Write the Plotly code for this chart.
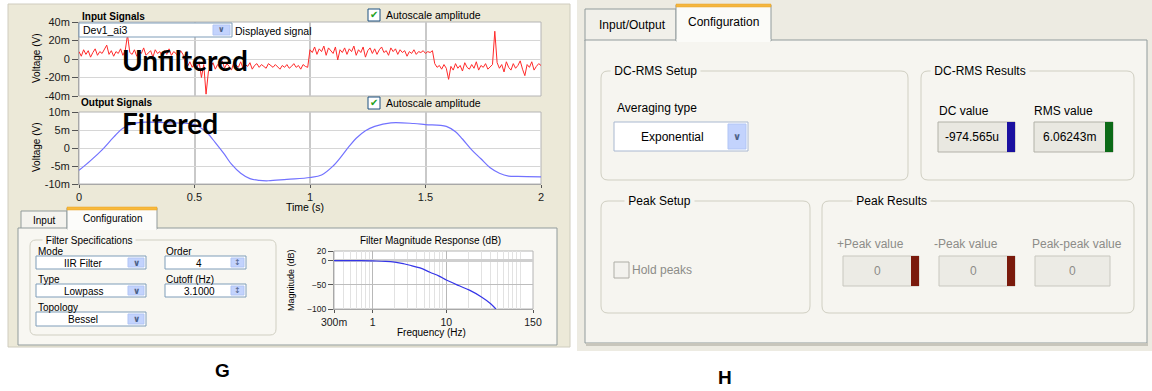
import math
import plotly.graph_objects as go

W, H = 1152, 391

# ---------------- data ----------------
# Input (unfiltered) signal, mV, sampled every 10 ms from 0 to 2 s
input_dt = 0.01
input_mv = [
    8, 3, 10, 5, 9, 2, 7, 11, 4, 8,
    6, 10, 15, 5, 9, 3, 8, 6, 11, 4,
    9, 26, 7, 5, 10, 3, 8, 6, 12, 4,
    7, 9, 2, 10, 6, 8, 3, 9, 5, 11,
    4, 8, 6, 2, 9, 5, -4, -8, -3, -9,
    -5, -10, -3, -20, -6, -38, -14, -9, -4, -11,
    -6, -9, -2, -10, -5, -8, -12, -4, -7, -9,
    -3, -10, -6, -8, -4, -11, -7, -5, -9, -6,
    -8, -10, -5, -7, -9, -6, -8, -11, -7, -9,
    -6, -10, -8, -5, -9, -7, -11, -6, -8, -9,
    10, 7, 13, 5, 11, 8, 14, 4, 12, 9,
    6, 13, -1, 10, 7, 12, 5, 11, 8, 14,
    4, 10, 7, 13, 2, 9, 12, 6, 11, 5,
    10, 13, 7, 9, 4, 12, 8, 11, 5, 10,
    7, 9, 3, 8, 6, 10, 5, 8, 7, 9,
    6, 8, 7, 9, -5, -9, -7, -11, -6, -10,
    -22, -8, -12, -5, -10, -7, -13, -4, -9, -11,
    -6, -10, -3, -12, -7, -9, -5, -11, -8, -6,
    30, -4, -10, -6, -14, -3, -9, -12, -5, -10,
    -7, -2, -11, -18, -6, -9, -3, -12, -8, -5,
    -7,
]

# Output (filtered) signal, mV
output_t = [0, 0.05, 0.1, 0.15, 0.19, 0.25, 0.3, 0.4, 0.5, 0.55, 0.59, 0.63, 0.66,
            0.7, 0.74, 0.78, 0.82, 0.9, 1.0, 1.05, 1.1, 1.13, 1.17, 1.2, 1.24, 1.28,
            1.35, 1.45, 1.5, 1.59, 1.63, 1.66, 1.7, 1.74, 1.78, 1.82, 1.86, 1.9, 2.0]
output_mv = [-6.2, -3.5, -0.5, 3, 5.5, 7, 7.2, 7, 6.5, 4.5, 1.5, -1.8, -4.5,
             -7, -8.5, -9, -9.1, -8.7, -8.2, -7.5, -5, -2.8, 0.5, 2.7, 4.8, 6,
             7, 6.8, 6.5, 6, 4.5, 2.5, -0.5, -3, -5.5, -7, -7.8, -7.9, -8]

# Filter magnitude response
freq_hz = [0.3, 0.7, 1, 1.5, 2, 2.6, 3.1, 4.4, 6, 8, 10, 15, 20.6, 30, 40, 47]
mag_db = [0, 0, -0.5, -1.3, -3, -6, -9, -15, -24, -32, -40, -52, -61, -75, -89, -100]

in_ticks = [0.04, 0.02, 0, -0.02, -0.04]
in_ticktext = ["40m", "20m", "0", "-20m", "-40m"]
out_ticks = [0.01, 0.005, 0, -0.005, -0.01]
out_ticktext = ["10m", "5m", "0", "-5m", "-10m"]
time_ticks = [0, 0.5, 1, 1.5, 2]
time_ticktext = ["0", "0.5", "1", "1.5", "2"]
freq_ticks = [0.3, 1, 10, 150]
freq_ticktext = ["300m", "1", "10", "150"]
freq_minor = [0.4, 0.5, 0.6, 0.7, 0.8, 0.9, 2, 3, 4, 5, 6, 7, 8, 9,
              20, 30, 40, 50, 60, 70, 80, 90, 100]
mag_ticks = [20, 0, -50, -100]

# ---------------- helpers ----------------
shapes = []
annotations = []

BEIGE = "#ECE9D8"
PANEL = "#F8F7F2"
XPBORDER = "#919B9C"
LEFT_FONT = "Liberation Sans"
RIGHT_FONT = "Liberation Sans"
RS = 12


def px(x):
    return x / W


def py(y):
    return 1 - y / H


def rect(x0, y0, x1, y1, fill=None, line=None, lw=1, layer="below"):
    shapes.append(dict(type="rect", xref="paper", yref="paper",
                       x0=px(x0), x1=px(x1), y0=py(y1), y1=py(y0),
                       fillcolor=fill or "rgba(0,0,0,0)",
                       line=dict(color=line or "rgba(0,0,0,0)", width=lw if line else 0),
                       layer=layer))


def rrect(x0, y0, x1, y1, r=5, line="#D0CFC2", fill=None, lw=1, layer="below"):
    l, rr, t, b = px(x0), px(x1), py(y0), py(y1)
    rx, ry = r / W, r / H
    path = (f"M {l+rx},{t} L {rr-rx},{t} Q {rr},{t} {rr},{t-ry} "
            f"L {rr},{b+ry} Q {rr},{b} {rr-rx},{b} L {l+rx},{b} "
            f"Q {l},{b} {l},{b+ry} L {l},{t-ry} Q {l},{t} {l+rx},{t} Z")
    shapes.append(dict(type="path", xref="paper", yref="paper", path=path,
                       fillcolor=fill or "rgba(0,0,0,0)",
                       line=dict(color=line, width=lw), layer=layer))


def text(x, y, s, size=10, color="#000000", anchor="left", family=LEFT_FONT,
         bg=None, angle=0):
    a = dict(xref="paper", yref="paper", x=px(x), y=py(y), text=s, showarrow=False,
             xanchor=anchor, yanchor="middle", textangle=angle,
             font=dict(size=size, color=color, family=family), borderpad=0)
    if bg:
        a["bgcolor"] = bg
    annotations.append(a)


def dropdown(x0, y0, x1, y1, label, bw=16, size=10, family=LEFT_FONT, layer="below",
             border="#7F9DB9", label_x=None):
    rect(x0, y0, x1, y1, fill="#FFFFFF", line=border, layer=layer)
    rect(x1 - bw - 2, y0 + 2, x1 - 2, y1 - 2, fill="#C3D3FD", line="#B1C5F5", layer=layer)
    text(x1 - 2 - bw / 2, (y0 + y1) / 2, "<b>∨</b>", size=min(size - 1, 10), color="#4D6185",
         anchor="center", family="DejaVu Sans")
    cx = label_x if label_x is not None else (x0 + x1 - bw) / 2
    text(cx, (y0 + y1) / 2 + 0.5, label, size=size, anchor="center", family=family)


def spinbox(x0, y0, x1, y1, label, bw=13):
    rect(x0, y0, x1, y1, fill="#FFFFFF", line="#7F9DB9")
    rect(x1 - bw - 2, y0 + 2, x1 - 2, y1 - 2, fill="#C3D3FD", line="#B1C5F5")
    text(x1 - 2 - bw / 2, (y0 + y1) / 2, "↕", size=8, color="#4D6185",
         anchor="center", family="DejaVu Sans")
    text((x0 + x1 - bw) / 2, (y0 + y1) / 2 + 0.5, label, size=10, anchor="center")


def checkbox(x0, y0, s, checked=True, border="#1C5180"):
    rect(x0, y0, x0 + s, y0 + s, fill="#FFFFFF" if checked else None, line=border)
    if checked:
        text(x0 + s / 2, y0 + s / 2, "✔", size=s - 2, color="#21A121", anchor="center",
             family="DejaVu Sans")


# ---------------- LEFT SCREENSHOT (G) ----------------
rect(8, 4, 570, 347, fill=BEIGE, line="#CFCCBE")
rect(79, 22, 541, 96, fill="#FFFFFF", line="#B4B4B4")
rect(79, 112, 541, 184, fill="#FFFFFF", line="#B4B4B4")

text(81, 16, "<b>Input Signals</b>", size=10)
checkbox(368, 9, 12)
text(385, 15, "Autoscale amplitude", size=10.5)
text(80, 103, "<b>Output Signals</b>", size=10)
checkbox(368, 97, 12)
text(385, 103, "Autoscale amplitude", size=10.5)

rect(79, 23, 232, 37, fill="#FFFFFF", line="#7F9DB9", layer="above")
rect(213, 25, 230, 35, fill="#C3D3FD", line="#B1C5F5", layer="above")
text(221.5, 30, "<b>∨</b>", size=8, color="#4D6185", anchor="center", family="DejaVu Sans")
text(82, 30.5, "Dev1_ai3", size=10.5)
text(234, 31, "Displayed signal", size=10.5)

text(36, 59, "Voltage (V)", size=10, angle=-90, anchor="center")
text(36, 148, "Voltage (V)", size=10, angle=-90, anchor="center")
text(305, 207, "Time (s)", size=10.5, anchor="center")

text(185, 60, "<b>Unfiltered</b>", size=28, family="Lato, Open Sans", anchor="center")
text(170, 123, "<b>Filtered</b>", size=28, family="Lato, Open Sans", anchor="center")

rect(21, 211, 67, 229, fill="#F4F3EE", line=XPBORDER)
rect(18, 228, 557, 345, fill=PANEL, line=XPBORDER)
rect(67, 208, 157, 229, fill="#FCFCFA", line=XPBORDER)
rect(67.5, 228, 156.5, 230, fill="#FCFCFA")
rect(67, 207, 157, 210, fill="#F8B93C", line="#E8A020", lw=0.5)
text(44, 220, "Input", size=10, anchor="center")
text(112, 218.5, "Configuration", size=10, anchor="center")

rrect(30, 240, 276, 335, r=6)
text(42, 240, " Filter Specifications ", size=10, bg=PANEL)
text(37, 251.5, "Mode", size=10)
dropdown(36, 256, 146, 269, "IIR Filter")
text(37, 279, "Type", size=10)
dropdown(36, 284, 146, 297, "Lowpass")
text(37, 307, "Topology", size=10)
dropdown(36, 312, 146, 326, "Bessel")
text(165, 251.5, "Order", size=10)
spinbox(165, 256, 246, 269, "4")
text(165, 279, "Cutoff (Hz)", size=10)
spinbox(165, 284, 246, 297, "3.1000")

rect(334, 251, 533, 309, fill="#FFFFFF", line="#B4B4B4")
text(430, 240, "Filter Magnitude Response (dB)", size=10, anchor="center")
text(291, 280, "Magnitude (dB)", size=9, angle=-90, anchor="center")
text(431, 332, "Frequency (Hz)", size=10, anchor="center")

text(222, 370, "<b>G</b>", size=19, family="Liberation Sans", anchor="center")

# ---------------- RIGHT SCREENSHOT (H) ----------------
rect(577, 0, 1152, 351, fill="#EDEBE2")
rect(585, 9, 676, 41, fill="#F1F0EA", line=XPBORDER)
rect(585, 40, 1147, 343, fill="#F6F5F0", line=XPBORDER)
rect(676, 5, 771, 41, fill="#FBFBF8", line=XPBORDER)
rect(676.5, 39, 770.5, 42, fill="#FBFBF8")
rect(676, 4, 771, 7, fill="#F5B63F", line="#E6A02A", lw=0.5)
rect(586, 343, 1148, 346, fill="#C8C6BC")
text(632, 25, "Input/Output", size=RS, anchor="center", family=RIGHT_FONT)
text(723, 22, "Configuration", size=RS, anchor="center", family=RIGHT_FONT)

RP = "#F6F5F0"
rrect(601, 71, 908, 180, r=7)
text(610, 71, " DC-RMS Setup ", size=RS, family=RIGHT_FONT, bg=RP)
rrect(921, 71, 1134, 180, r=7)
text(930, 71, " DC-RMS Results ", size=RS, family=RIGHT_FONT, bg=RP)
rrect(601, 201, 810, 313, r=7)
text(624, 201, " Peak Setup ", size=RS, family=RIGHT_FONT, bg=RP)
rrect(822, 201, 1134, 313, r=7)
text(852, 201, " Peak Results ", size=RS, family=RIGHT_FONT, bg=RP)

text(616, 108, "Averaging type", size=RS, family=RIGHT_FONT)
dropdown(614, 122, 748, 151, "Exponential", bw=18, size=RS, family=RIGHT_FONT,
         border="#A9B8D0", label_x=672)

text(938, 111, "DC value", size=RS, family=RIGHT_FONT)
rect(938, 122, 1015, 152, fill="#E9E8E1", line="#B2B1A8")
rect(1007, 122, 1015, 152, fill="#1A10A0")
text(972, 137, "-974.565u", size=RS, family=RIGHT_FONT, anchor="center")
text(1033, 111, "RMS value", size=RS, family=RIGHT_FONT)
rect(1034, 122, 1113, 152, fill="#E9E8E1", line="#B2B1A8")
rect(1105, 122, 1113, 152, fill="#0B6A16")
text(1069, 137, "6.06243m", size=RS, family=RIGHT_FONT, anchor="center")

rect(614, 262, 629, 278, fill="#F3F2EE", line="#AEADA6")
GRAY = "#8C8C88"
text(631, 270, "Hold peaks", size=RS, family=RIGHT_FONT, color=GRAY)
for cx, lbl, x0, x1, bar in [(870, "+Peak value", 843, 919, True),
                              (966, "-Peak value", 939, 1015, True),
                              (1077, "Peak-peak value", 1035, 1110, False)]:
    text(cx, 244, lbl, size=RS, family=RIGHT_FONT, color=GRAY, anchor="center")
    rect(x0, 256, x1, 286, fill="#ECEBE5", line="#C8C7BF")
    if bar:
        rect(x1 - 8, 256, x1, 286, fill="#7A1A0C")
        text((x0 + x1 - 8) / 2, 271, "0", size=RS, family=RIGHT_FONT, color=GRAY,
             anchor="center")
    else:
        text((x0 + x1) / 2, 271, "0", size=RS, family=RIGHT_FONT, color=GRAY,
             anchor="center")

text(725, 377, "<b>H</b>", size=19, family="Liberation Sans", anchor="center")

# ---------------- traces ----------------
fig = go.Figure()
fig.add_trace(go.Scatter(y=[v / 1000 for v in input_mv], x0=0, dx=input_dt, mode="lines",
                         line=dict(color="#FF2A2A", width=1), xaxis="x", yaxis="y",
                         hoverinfo="skip"))
fig.add_trace(go.Scatter(x=output_t, y=[v / 1000 for v in output_mv], mode="lines",
                         line=dict(color="#7272FF", width=1.2, shape="spline"),
                         xaxis="x2", yaxis="y2", hoverinfo="skip"))
fig.add_trace(go.Scatter(x=freq_hz, y=mag_db, mode="lines",
                         line=dict(color="#3535E8", width=1.2, shape="spline"),
                         xaxis="x3", yaxis="y3", hoverinfo="skip"))

tickfont = dict(family=LEFT_FONT, size=11, color="#1A1A1A")
xdom = [px(79), px(541)]
common = dict(automargin=False, fixedrange=True)

fig.update_layout(
    width=W, height=H, autosize=False,
    margin=dict(l=0, r=0, t=0, b=0, pad=0),
    paper_bgcolor="#FFFFFF", plot_bgcolor="rgba(0,0,0,0)",
    showlegend=False,
    shapes=shapes, annotations=annotations,
    xaxis=dict(domain=xdom, anchor="y", range=[0, 2], tickvals=[0.5, 1, 1.5],
               showticklabels=False, ticks="", gridcolor="#C9C9C9", gridwidth=2,
               zeroline=False, showline=False, **common),
    yaxis=dict(domain=[py(96), py(22)], anchor="x", range=[-0.04, 0.04],
               tickvals=in_ticks, ticktext=in_ticktext, ticks="outside", ticklen=6,
               tickcolor="#555555", tickfont=tickfont, gridcolor="#D6D6D6",
               zeroline=False, showline=True, linecolor="#A8A8A8", **common),
    xaxis2=dict(domain=xdom, anchor="y2", range=[0, 2], tickvals=time_ticks,
                ticktext=time_ticktext, ticks="outside", ticklen=3, tickcolor="#555555",
                tickfont=tickfont, gridcolor="#C9C9C9", gridwidth=2, zeroline=False,
                showline=True, linecolor="#A8A8A8", **common),
    yaxis2=dict(domain=[py(184), py(112)], anchor="x2", range=[-0.01, 0.01],
                tickvals=out_ticks, ticktext=out_ticktext, ticks="outside", ticklen=6,
                tickcolor="#555555", tickfont=tickfont, gridcolor="#D6D6D6",
                zeroline=False, showline=True, linecolor="#A8A8A8", **common),
    xaxis3=dict(domain=[px(334), px(533)], anchor="y3", type="log",
                range=[math.log10(0.3), math.log10(150)], tickvals=freq_ticks,
                ticktext=freq_ticktext, ticks="outside", ticklen=3, tickcolor="#555555",
                tickfont=dict(family=LEFT_FONT, size=10.5, color="#1A1A1A"),
                gridcolor="#B8B8B8", showline=True, linecolor="#A8A8A8",
                minor=dict(tickmode="array", tickvals=freq_minor, showgrid=True,
                           gridcolor="#E2E2E2", ticks=""),
                zeroline=False, **common),
    yaxis3=dict(domain=[py(309), py(251)], anchor="x3", range=[-100, 20],
                tickvals=mag_ticks, ticks="outside", ticklen=5, tickcolor="#555555",
                tickfont=dict(family=LEFT_FONT, size=8.5, color="#1A1A1A"),
                gridcolor="#BDBDBD", zeroline=True, zerolinecolor="#CFCFCF",
                zerolinewidth=3, showline=True, linecolor="#A8A8A8", **common),
)

fig.write_html("out.html", config={"displayModeBar": False},
               post_script="document.documentElement.style.margin='0';"
                           "document.body.style.margin='0';"
                           "document.body.style.padding='0';"
                           "document.body.style.overflow='hidden';")
